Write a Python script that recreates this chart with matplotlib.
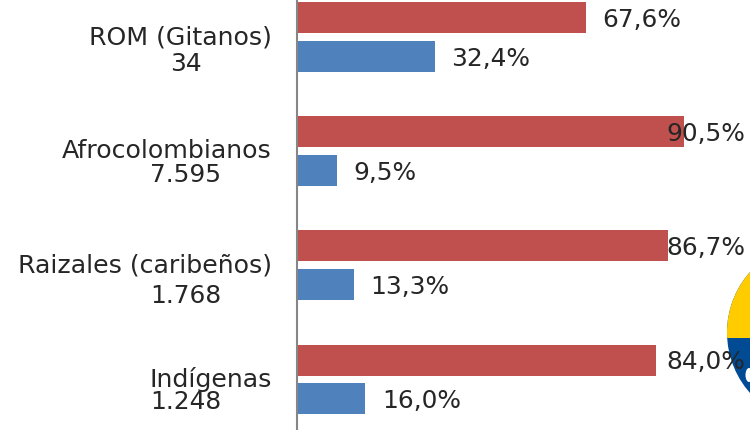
import matplotlib
matplotlib.use("Agg")
import matplotlib.pyplot as plt
from matplotlib.patches import Circle, Rectangle, Ellipse

categories = ["ROM (Gitanos)", "Afrocolombianos", "Raizales (caribeños)", "Indígenas"]
counts = ["34", "7.595", "1.768", "1.248"]
red_values = [67.6, 90.5, 86.7, 84.0]
blue_values = [32.4, 9.5, 13.3, 16.0]

W, H = 750, 430
PX_PER_UNIT = 4.28
AXIS_X = 296.7
ROW_0 = 37
ROW_STEP = 114

plt.rcParams["font.family"] = ["DejaVu Sans"]
fig = plt.figure(figsize=(W / 100, H / 100), dpi=100)

# pixel-space layer below the chart for the emblem and text
px = fig.add_axes([0, 0, 1, 1], zorder=0)
px.set_xlim(0, W)
px.set_ylim(H, 0)
px.axis("off")

ax = fig.add_axes([0, 0, 1, 1], zorder=1)
ax.set_xlim(-AXIS_X / PX_PER_UNIT, (W - AXIS_X) / PX_PER_UNIT)
ax.set_ylim((H - ROW_0) / ROW_STEP, -ROW_0 / ROW_STEP)
ax.axis("off")

ypos = list(range(len(categories)))
bar_h = 31 / ROW_STEP
off_red = 19 / ROW_STEP
off_blue = 19.5 / ROW_STEP
ax.barh([y - off_red for y in ypos], red_values, height=bar_h, color="#C0504D")
ax.barh([y + off_blue for y in ypos], blue_values, height=bar_h, color="#4F81BD")
ax.axvline(0, color="#868686", lw=1.5)

TXT = "#262626"
FS = 17.9
red_offsets = [16, -18, -1, 10]
blue_offsets = [16, 16, 17, 17]
for i, y in enumerate(ypos):
    ax.annotate(f"{red_values[i]:.1f}%".replace(".", ","),
                (red_values[i], y - off_red), xytext=(red_offsets[i] * 0.72, -1.5),
                textcoords="offset points", va="center", ha="left", fontsize=FS, color=TXT)
    ax.annotate(f"{blue_values[i]:.1f}%".replace(".", ","),
                (blue_values[i], y + off_blue), xytext=(blue_offsets[i] * 0.72, -1.5),
                textcoords="offset points", va="center", ha="left", fontsize=FS, color=TXT)

label_y = [37, 151, 265, 379]
count_y = [64, 175, 296, 402]
for i in range(4):
    px.text(272, label_y[i], categories[i], ha="right", va="center", fontsize=18.2, color=TXT)
    px.text(186, count_y[i], counts[i], ha="center", va="center", fontsize=FS, color=TXT)

# emblem at the lower-right corner
circle = Circle((818, 332.5), 91, fc="#004B93", ec="none", zorder=1)
px.add_patch(circle)
yellow = Rectangle((700, 200), 150, 138, fc="#FFCC00", ec="none", zorder=2)
px.add_patch(yellow)
yellow.set_clip_path(circle)
spot = Ellipse((749, 375), 7, 14, fc="white", ec="none", zorder=3)
px.add_patch(spot)

fig.savefig("out.png", dpi=100)
